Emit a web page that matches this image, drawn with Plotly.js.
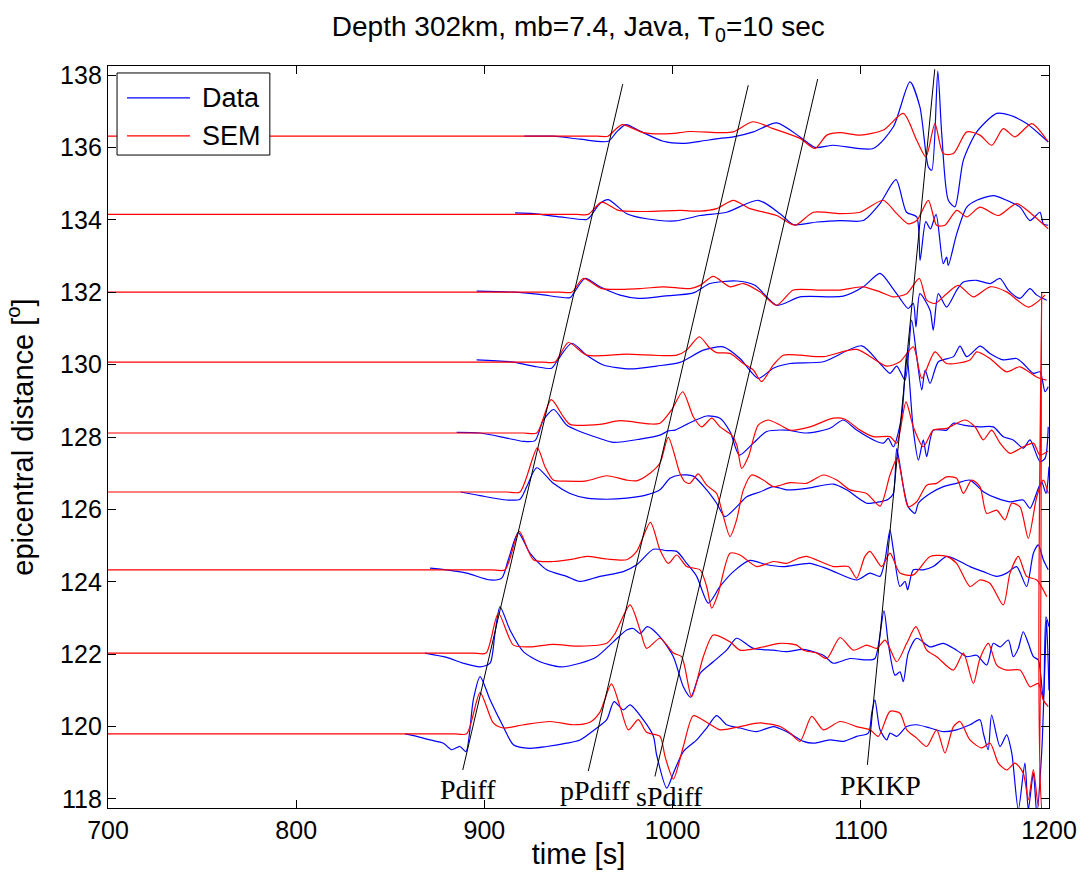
<!DOCTYPE html>
<html>
<head>
<meta charset="utf-8">
<script src="https://cdn.plot.ly/plotly-3.0.1.min.js"></script>
<style>html,body{margin:0;padding:0;background:#fff;}#chart{width:1086px;height:880px;}</style>
</head>
<body>
<div id="chart"></div>
<script>
// Epicentral distances (degrees) of the 9 stations, top to bottom
const distances = [136.31, 134.15, 132.0, 130.07, 128.11, 126.48, 124.33, 122.03, 119.8];

// ---- Trace 1 ----
const dataT1 = [921.2, 936.6, 950.8, 965.8, 970.3, 975.2, 982.7, 995, 1005.4, 1014.6, 1025.2, 1032.3, 1042.9, 1055.3, 1067.7, 1075.7, 1085.4, 1106.6, 1117.3, 1126.1, 1131.4, 1135.9, 1137.7, 1140.9, 1143, 1146.5, 1150, 1154.5, 1161.6, 1172.2, 1179.3, 1188.1, 1199.6];
const dataA1 = [0, 0, -0.08, -0.14, 0.12, 0.32, 0.14, -0.14, -0.20, -0.14, -0.06, -0.02, 0.12, 0.37, -0.02, -0.31, -0.25, -0.34, 0.26, 1.50, 0.81, -0.85, -0.94, 1.80, 0.07, -1.77, -1.95, -0.66, 0.12, 0.63, 0.58, 0.35, -0.16];
const semT1 = [700, 946, 960, 965.7, 969.5, 973.3, 984.4, 998.6, 1009.2, 1025.2, 1032.3, 1042.6, 1053.5, 1067.7, 1075.7, 1081.9, 1089, 1099.6, 1112, 1122.6, 1129.7, 1134.6, 1139.4, 1143.8, 1149.2, 1156.3, 1163.3, 1169.6, 1175.7, 1181.9, 1190.8, 1199.6];
const semA1 = [0, 0, 0, 0, 0.18, 0.32, 0.10, 0.07, 0.13, 0.10, 0.12, 0.40, 0.21, -0.06, -0.34, 0.03, 0.10, 0.03, 0.17, 0.63, -0.11, -0.57, 0.35, -0.48, -0.48, 0.12, 0.03, -0.25, 0.21, -0.02, 0.35, -0.16];

// ---- Trace 2 ----
const dataT2 = [916.3, 926, 940.2, 954.4, 956.1, 961.4, 965.8, 975.6, 986.2, 1001.3, 1014.6, 1028.7, 1045.5, 1057.1, 1064.1, 1076.6, 1089, 1101.3, 1110.2, 1118.7, 1124.3, 1129.7, 1131.5, 1134.5, 1137, 1140, 1143.8, 1145.6, 1146.5, 1151, 1156.3, 1161.6, 1170.4, 1177.5, 1184.6, 1189.9, 1195.2, 1197, 1199.6];
const dataA2 = [0.04, 0.02, -0.07, -0.14, -0.07, 0.30, 0.41, 0.02, -0.12, -0.18, -0.03, 0.06, 0.39, 0.02, -0.28, -0.21, -0.17, -0.17, 0.30, 0.96, 0.06, -0.07, -1.27, -0.2, -0.4, 0.0, -1.36, -1.18, -1.41, -0.53, 0.20, 0.39, 0.52, 0.39, 0.20, -0.17, 0.06, -0.26, -0.30];
const semT2 = [700, 935, 949, 955.2, 962.3, 971.2, 986.2, 1003.9, 1014.6, 1023.4, 1032.3, 1041.1, 1055.3, 1065, 1074.8, 1089, 1099.6, 1111.9, 1119.1, 1125.2, 1129.7, 1135.9, 1140.3, 1144.7, 1151, 1156.3, 1163.3, 1173.1, 1182.8, 1191.7, 1199.6];
const semA2 = [0, 0, 0, 0, 0.34, 0.11, 0.08, 0.11, 0.09, 0.16, 0.39, 0.16, -0.03, -0.30, 0.06, 0.02, 0.06, 0.39, 0.02, -0.26, -0.17, 0.39, -0.30, -0.30, 0.11, -0.07, 0.20, -0.03, 0.30, -0.03, -0.40];

// ---- Trace 3 ----
const dataT3 = [895.9, 915.4, 929.5, 945.5, 947.3, 953.5, 961.4, 972.1, 981.8, 995.1, 1011, 1019.9, 1034, 1043.8, 1055.3, 1067.7, 1090.7, 1101.3, 1110.2, 1116.4, 1120.8, 1125.2, 1127.9, 1129.3, 1131.4, 1136.8, 1138.5, 1141.2, 1145.6, 1151, 1154.5, 1161.6, 1168.7, 1174, 1178.4, 1184.6, 1189.9, 1193.5, 1198.8];
const dataA3 = [0.03, 0, -0.06, -0.15, -0.04, 0.38, 0.15, -0.08, -0.17, -0.11, -0.02, 0.24, 0.31, 0.19, -0.36, -0.13, -0.11, 0.15, 0.52, 0.15, -0.17, -0.45, -0.31, -0.96, -0.04, -0.50, -1.05, -0.04, -0.41, 0.06, 0.28, 0.33, 0.24, 0.38, 0.06, -0.17, 0.10, -0.08, -0.22];
const semT3 = [700, 926, 940, 946.4, 952.6, 962.3, 982.7, 995.1, 1009.2, 1014.6, 1021.6, 1030.5, 1037.6, 1046.4, 1055.3, 1064.1, 1076.6, 1089, 1101.3, 1110.2, 1117.3, 1124.4, 1131.1, 1135, 1139.4, 1145.6, 1151.8, 1159.8, 1168.7, 1177.5, 1189, 1197.9];
const semA3 = [0, 0, 0, 0, 0.38, 0.10, 0.10, 0.15, 0.10, 0.19, 0.44, 0.15, 0.24, 0.01, -0.36, 0.06, 0.06, 0.06, 0.15, 0.01, -0.13, -0.04, 0.38, -0.22, -0.31, -0.04, 0.19, -0.13, 0.15, 0.01, -0.41, -0.08];

// ---- Trace 4 ----
const dataT4 = [895.9, 915.4, 927.8, 935.7, 938.4, 946.4, 954.4, 963.2, 977.4, 991.5, 1003.9, 1016.3, 1026.9, 1035.8, 1045.5, 1053.5, 1062.4, 1080.1, 1100.5, 1110.2, 1115.5, 1119.1, 1123.5, 1127, 1129.7, 1132.4, 1134.2, 1136.8, 1141.2, 1149.2, 1152.7, 1156.3, 1163.4, 1168.6, 1175.7, 1182.8, 1186.3, 1191.7, 1195.2, 1197.9, 1199.6];
const dataA4 = [0.06, 0, -0.13, -0.17, 0.01, 0.52, 0.19, -0.08, -0.19, -0.11, -0.01, 0.33, 0.42, 0.10, -0.45, -0.17, -0.04, 0.01, 0.45, -0.04, -0.31, -0.11, -0.50, 1.16, 0.15, -0.77, -0.22, -0.59, 0.01, 0.15, 0.44, 0.15, 0.44, 0.24, 0.06, 0.10, -0.04, -0.31, -0.27, -0.82, -0.68];
const semT4 = [700, 917, 931, 937.5, 944.6, 954.4, 975.6, 1002.2, 1007.5, 1014.2, 1019.9, 1023.4, 1030.5, 1037.6, 1042.9, 1047.3, 1053.5, 1058.8, 1067.7, 1080.1, 1097.8, 1113.8, 1120.8, 1127.9, 1132.4, 1139.4, 1145.6, 1158, 1161.6, 1168.6, 1177.5, 1184.6, 1193.4, 1198.7];
const semA4 = [0, 0, 0, 0, 0.54, 0.19, 0.22, 0.19, 0.33, 0.70, 0.38, 0.26, 0.24, -0.04, -0.22, -0.54, -0.08, 0.19, 0.19, 0.15, 0.35, -0.11, 0.01, 0.42, -0.45, 0.28, -0.04, 0.06, 0.28, 0.10, -0.27, -0.13, -0.41, -0.50];

// ---- Trace 5 ----
const dataT5 = [885.3, 897.7, 911.9, 920.7, 926.9, 931.3, 936.8, 943.7, 950.8, 961.4, 968.5, 982.7, 993.3, 997.7, 1001.3, 1007.5, 1018.1, 1025.2, 1030.5, 1035.5, 1042.9, 1050, 1060.6, 1071.2, 1083.6, 1090.7, 1097.8, 1106.7, 1112, 1114.6, 1117.3, 1121.7, 1124.4, 1127.9, 1130.6, 1133.2, 1135, 1138.5, 1145.6, 1149.2, 1154.5, 1163.3, 1170.4, 1175.7, 1181, 1186.3, 1189.9, 1195.2, 1197.9, 1199.6];
const dataA5 = [0.02, 0, -0.14, -0.23, -0.21, 0.36, 0.65, 0.22, 0.04, -0.15, -0.26, -0.17, -0.06, 0.06, 0.08, 0.24, 0.47, 0.41, 0.04, -0.61, -0.28, 0.04, 0.08, 0, 0.13, 0.36, 0.08, -0.19, -0.28, -0.15, -0.38, 0.45, 2.2, 0.08, -0.75, -0.19, -0.65, 0.08, 0.08, 0.27, 0.22, 0.17, 0.17, -0.10, -0.19, -0.42, -0.19, -0.79, -0.70, 0.17];
const semT5 = [700, 907, 921, 927.8, 935.5, 941.9, 945.5, 961.4, 972.1, 988, 993.3, 999.5, 1005.4, 1011, 1015.5, 1020.8, 1025.2, 1031.4, 1034.1, 1036.7, 1040.3, 1045.5, 1050.8, 1057.1, 1062.4, 1073, 1085.4, 1091.6, 1099.6, 1106.7, 1115.5, 1119.1, 1124, 1127.9, 1133.2, 1138.5, 1145.6, 1155.4, 1160.7, 1165.1, 1169.5, 1174, 1179.3, 1186.3, 1191.7, 1195.2, 1199.6];
const semA5 = [0, 0, 0, 0, 0.92, 0.45, 0.24, 0.24, 0.34, 0.25, 0.27, 0.64, 1.14, 0.45, 0.17, 0.41, 0.17, -0.06, -0.33, -0.98, -0.65, 0.22, 0.36, 0.22, 0.08, 0.17, 0.41, 0.38, 0.08, -0.10, -0.10, -0.28, 0.86, 0.17, -0.38, 0.08, 0.13, 0.36, 0.17, -0.19, 0.08, -0.28, -0.56, -0.38, -0.28, -0.61, -0.5];

// ---- Trace 6 ----
const dataT6 = [887.4, 897.7, 911.9, 918.9, 922.5, 927.8, 936.6, 945.5, 954.4, 965, 975.6, 986.2, 993.3, 998.6, 1003.9, 1011, 1018.1, 1023.4, 1027.8, 1034, 1039.4, 1046.4, 1053.5, 1060.6, 1071.2, 1085.4, 1092.5, 1103.1, 1110.2, 1114.6, 1117.3, 1119.1, 1122.6, 1125.2, 1128.8, 1130.6, 1136.8, 1143.9, 1150.9, 1158, 1165.1, 1172.2, 1179.3, 1186.3, 1189.9, 1194.3, 1196.1, 1198.4, 1200];
const dataA6 = [0, -0.10, -0.22, -0.20, 0.15, 0.67, 0.24, -0.04, -0.17, -0.20, -0.17, -0.08, 0.06, 0.38, 0.47, 0.44, 0.06, -0.31, -0.68, -0.41, -0.13, 0, 0.15, 0.06, 0.10, 0.22, 0.06, -0.31, -0.27, -0.20, -0.04, 1.2, 0.15, -0.41, -0.59, -0.31, -0.04, 0.15, 0.24, 0.33, 0.01, -0.17, -0.27, -0.22, -0.45, 0.10, 0.28, -0.04, 0.70];
const semT6 = [700, 898, 912, 918.9, 928.1, 932.2, 936.6, 943.7, 954.4, 965, 975.6, 980.9, 988, 993.3, 997.7, 1003.9, 1006.6, 1009.2, 1013.6, 1018.1, 1023.4, 1026.1, 1030.5, 1034, 1037.6, 1042, 1048.2, 1053.5, 1062.4, 1071.2, 1080.1, 1087.2, 1094.3, 1103.1, 1110.2, 1115.5, 1119.4, 1121.7, 1125.2, 1129.7, 1135, 1140.3, 1145.6, 1150.9, 1154.5, 1158.9, 1163.3, 1166.9, 1172.2, 1176.6, 1180.2, 1184.6, 1189, 1193.5, 1197, 1199.6];
const semA6 = [0, 0, 0, 0, 1.22, 0.70, 0.33, 0.30, 0.31, 0.45, 0.33, 0.31, 0.52, 0.80, 1.51, 0.52, 0.28, 0.24, 0.50, 0.19, -0.04, -0.50, -1.23, -0.77, 0.06, 0.47, 0.33, 0.15, 0.26, 0.24, 0.47, 0.33, 0.06, -0.04, -0.39, 0.47, 0.95, 0.42, -0.41, -0.27, 0.19, 0.24, 0.42, 0.38, -0.04, 0.33, 0.15, -0.59, -0.50, -0.77, -0.31, -0.41, -1.28, -0.13, 0.33, -0.04];

// ---- Trace 7 ----
const dataT7 = [871.1, 880, 890.6, 903, 909.2, 912.7, 918, 924.2, 933.1, 943.7, 950.8, 961.4, 973.8, 980.9, 989.8, 996.9, 1002.2, 1007.5, 1012.8, 1019, 1025.2, 1032.3, 1041.1, 1050, 1058.8, 1073, 1083.6, 1097.8, 1104.9, 1110.2, 1112.9, 1115.5, 1117.3, 1120.8, 1123.5, 1124.9, 1127.9, 1133.2, 1138.5, 1145.6, 1150.9, 1158, 1165.1, 1172.2, 1177.5, 1182.8, 1188.1, 1191.7, 1194.3, 1197, 1199.6];
const dataA7 = [0.05, 0, -0.09, -0.28, -0.23, 0.28, 1.03, 0.46, 0, -0.18, -0.32, -0.18, -0.05, 0.14, 0.57, 0.53, 0.51, 0.18, -0.18, -0.92, -0.46, -0.05, 0.26, 0.14, 0.09, 0.18, 0, -0.28, -0.09, -0.18, 0.28, 1.10, 0.55, -0.46, -0.32, -0.55, 0, 0, 0.09, 0.37, 0.28, 0.09, -0.05, -0.18, -0.09, 0.09, -0.46, 0.46, 0.69, 0.28, 0];
const semT7 = [700, 890, 904, 911, 918.5, 926, 936.6, 947.3, 954.4, 965, 975.6, 980.9, 988.2, 993.3, 997.7, 1002.2, 1007.5, 1014.6, 1018.1, 1020.8, 1024.3, 1030.5, 1035.8, 1044.7, 1053.5, 1060.6, 1066.8, 1071.2, 1085.4, 1093.4, 1097.8, 1102.2, 1104.9, 1111.1, 1115.5, 1120.8, 1127.9, 1136.8, 1145.6, 1150.9, 1158, 1163.3, 1168.6, 1175.7, 1179.3, 1183.7, 1188.1, 1193.5, 1198.8];
const semA7 = [0, 0, 0, 0, 1.06, 0.28, 0.23, 0.30, 0.37, 0.30, 0.28, 0.51, 1.31, 0.55, 0.18, 0.41, 0.09, 0, -0.46, -1.06, -0.64, 0.46, 0.41, 0.09, 0.23, 0.18, 0.32, 0.37, 0.09, 0.09, -0.23, 0.37, 0.51, 0.09, 0.46, -0.09, -0.14, 0.37, 0.37, 0.18, -0.46, -0.28, -0.37, -0.97, -0.09, 0.37, -0.18, -0.28, -0.74];

// ---- Trace 8 ----
const dataT8 = [868.4, 880, 888.8, 897.7, 903, 905.6, 908.3, 913.6, 920.7, 929.5, 940.2, 950.8, 959.7, 968.5, 975.6, 979.2, 982.7, 986.6, 993.3, 1000.4, 1005.7, 1009.6, 1014.6, 1021.6, 1028.7, 1034, 1042.9, 1053.5, 1060.6, 1069.5, 1080.1, 1085.4, 1094.3, 1103.1, 1107.5, 1112.3, 1114.6, 1118.2, 1120.8, 1122.6, 1125.2, 1129.7, 1136.8, 1143.9, 1150.9, 1156.3, 1161.6, 1166.9, 1170.4, 1174, 1178.4, 1181, 1183.7, 1186.3, 1189, 1191.7, 1194.3, 1197, 1198.4, 1200];
const dataA8 = [0, -0.12, -0.28, -0.38, -0.28, 0.54, 1.28, 0.64, 0.04, -0.24, -0.38, -0.28, -0.10, 0.31, 0.64, 0.68, 0.54, 0.73, 0.45, -0.10, -0.93, -1.22, -0.56, -0.24, 0.08, 0.41, 0.13, 0.08, 0.04, 0.10, -0.06, -0.28, -0.15, -0.19, -0.15, 1.17, 0.27, -0.61, -0.52, -0.79, 0, 0.41, 0.17, 0.27, 0.08, -0.10, -0.06, -0.33, 0.27, 0.17, 0.36, -0.10, 0.13, 0.59, 0.27, -0.10, -0.19, -1.30, 1.00, 0.73];
const semT8 = [700, 880, 894, 900.9, 907.4, 915.4, 924.2, 936.6, 950.8, 965, 969.4, 977.4, 982.7, 986.2, 993.3, 1000.4, 1004.8, 1010.1, 1016.3, 1021.6, 1030.5, 1035.8, 1044.7, 1057.1, 1065.9, 1069.5, 1076.6, 1081.9, 1089, 1096.1, 1103.1, 1108.5, 1112.9, 1119.1, 1124.4, 1129.3, 1135, 1140.3, 1149.2, 1154.5, 1159.8, 1163.3, 1167.8, 1172.2, 1177.5, 1184.6, 1189.9, 1194.3, 1197, 1199.6];
const semA8 = [0, 0, 0, 0, 1.10, 0.22, 0.17, 0.24, 0.19, 0.27, 0.54, 1.33, 0.64, 0.13, 0.41, 0, -0.10, -1.21, -0.10, 0.50, 0.31, 0.08, 0.13, 0.27, 0.22, 0.08, 0, -0.15, 0.43, 0.08, 0.22, 0.13, 0.36, -0.24, 0.27, 0.73, 0.08, -0.10, -0.47, 0, -0.84, -0.15, 0.27, -0.33, -0.47, -0.47, -0.93, -0.84, -1.30, -1.48];

// ---- Trace 9 ----
const dataT9 = [857.8, 864, 871.1, 878.2, 882.6, 887, 890.2, 894.1, 897.7, 903, 910, 915.4, 924.2, 933.1, 943.7, 950.8, 959.7, 965, 968.9, 973.8, 977.4, 984.4, 989.8, 991.5, 996.9, 1000.4, 1005.7, 1012.8, 1018.1, 1023.4, 1028.7, 1035.8, 1044.7, 1053.5, 1060.6, 1069.5, 1074.8, 1083.6, 1090.7, 1097.8, 1104, 1105.8, 1107.5, 1110.2, 1113.8, 1115.5, 1119.1, 1124.4, 1129.7, 1136.8, 1143.9, 1150.9, 1158, 1163.3, 1165.1, 1167.7, 1169.5, 1174, 1177.5, 1180.2, 1183.7, 1187.2, 1189, 1191.7, 1193.5, 1196.1, 1197.9, 1198.7, 1200];
const dataA9 = [0, -0.07, -0.17, -0.26, -0.44, -0.35, -0.49, 0.94, 1.58, 0.94, 0.20, -0.30, -0.40, -0.35, -0.26, -0.17, 0.16, 0.39, 0.89, 0.66, 0.80, 0.39, -0.07, -0.58, -1.50, -1.09, -0.49, -0.17, 0.16, 0.50, 0.25, 0.16, 0.06, 0.20, 0.06, -0.21, -0.26, -0.17, -0.21, -0.07, 0.02, 0.57, 0.94, 0.11, -0.17, 0.02, -0.07, 0.20, 0.25, 0.16, 0.06, 0.11, 0.25, 0.39, 0.02, -0.44, 0.52, -0.35, -0.03, -0.53, -2.1, -0.81, -2.1, -1.08, -2.2, -0.53, 2.04, 3.15, 1.2];
const semT9 = [700, 870, 884, 890.6, 897.7, 904.7, 910, 920.7, 934.9, 947.3, 956.1, 961.4, 967.5, 972.1, 976.5, 981.8, 986.2, 993.3, 996, 1000.4, 1005.7, 1011, 1018.1, 1025.2, 1035.8, 1046.4, 1057.1, 1062.4, 1067.7, 1073.9, 1080.1, 1089, 1097.8, 1104.9, 1109.3, 1115.5, 1120.8, 1124.4, 1129.7, 1135, 1140.3, 1144.7, 1149.2, 1152.7, 1158, 1164.2, 1168.7, 1173.1, 1177.5, 1181.9, 1186.3, 1189, 1191.7, 1194.3, 1196.1, 1197.4, 1200];
const semA9 = [0, 0, 0, 0, 1.14, 0.30, 0.16, 0.25, 0.34, 0.25, 0.32, 0.60, 1.38, 0.75, 0.11, 0.39, 0.04, -0.07, -0.63, -1.25, -0.35, 0.50, 0.32, 0.11, 0.20, 0.30, 0.20, 0.02, -0.21, 0.48, 0.11, 0.34, 0.20, 0.11, -0.07, 0.62, 0.57, 0.11, -0.12, -0.35, 0.11, -0.53, 0.20, 0.34, -0.17, -0.39, -0.26, -0.81, -1.0, -0.81, -1.08, -1.82, -0.99, -2.0, 12.2, -2.5, -2.5];

// Phase travel-time curves (start/end points) and labels
const phaseNames = ['Pdiff', 'pPdiff', 'sPdiff', 'PKIKP'];
const phaseT0 = [888.5, 955.2, 990.6, 1103.5];
const phaseY0 = [118.80, 118.77, 118.62, 118.94];
const phaseT1 = [973.5, 1040.2, 1077.1, 1139.3];
const phaseY1 = [137.75, 137.72, 137.89, 138.16];
const labelT = [891.3, 958.8, 998.6, 1110.2];
const labelY = [118.27, 118.22, 118.08, 118.38];

const xTicks = [700, 800, 900, 1000, 1100, 1200];
const yTicks = [118, 120, 122, 124, 126, 128, 130, 132, 134, 136, 138];
const seriesNames = ['Data', 'SEM'];

const dataTs = [dataT1, dataT2, dataT3, dataT4, dataT5, dataT6, dataT7, dataT8, dataT9];
const dataAs = [dataA1, dataA2, dataA3, dataA4, dataA5, dataA6, dataA7, dataA8, dataA9];
const semTs = [semT1, semT2, semT3, semT4, semT5, semT6, semT7, semT8, semT9];
const semAs = [semA1, semA2, semA3, semA4, semA5, semA6, semA7, semA8, semA9];

const BLUE = '#0000ff', RED = '#ff0000';
const SANS = 'Liberation Sans, Arial, Helvetica, sans-serif';
const traces = [];
function addSet(Ts, As, color, name) {
  for (let i = 0; i < distances.length; i++) {
    const n = Math.min(Ts[i].length, As[i].length);
    traces.push({
      type: 'scatter', mode: 'lines', name: name, showlegend: false,
      x: Ts[i].slice(0, n), y: As[i].slice(0, n).map(a => distances[i] + a),
      line: {color: color, width: 1.2, shape: 'spline', smoothing: 0.7}, hoverinfo: 'skip'
    });
  }
}
addSet(dataTs, dataAs, BLUE, seriesNames[0]);
addSet(semTs, semAs, RED, seriesNames[1]);
for (let k = 0; k < phaseNames.length; k++) {
  traces.push({
    type: 'scatter', mode: 'lines', showlegend: false,
    x: [phaseT0[k], phaseT1[k]], y: [phaseY0[k], phaseY1[k]],
    line: {color: '#000000', width: 1}, hoverinfo: 'skip'
  });
}

const annotations = phaseNames.map((nm, k) => ({
  x: labelT[k], y: labelY[k], xref: 'x', yref: 'y', text: nm, showarrow: false,
  xanchor: 'center', yanchor: 'middle',
  font: {family: 'Liberation Serif, Times New Roman, serif', size: 28, color: '#000'}
}));
// legend (drawn as a boxed key in the upper-left corner)
const legY = [0.957, 0.9057];
seriesNames.forEach((nm, k) => {
  annotations.push({
    x: 0.0978, y: legY[k], xref: 'paper', yref: 'paper', text: nm, showarrow: false,
    xanchor: 'left', yanchor: 'middle',
    font: {family: SANS, size: 27, color: '#000'}
  });
});
const shapes = [
  {type: 'rect', xref: 'paper', yref: 'paper', x0: 0.0096, x1: 0.172, y0: 0.880, y1: 0.9906,
   line: {color: '#000', width: 1}, fillcolor: '#ffffff', layer: 'above'},
  {type: 'line', xref: 'paper', yref: 'paper', x0: 0.0202, x1: 0.0871, y0: legY[0], y1: legY[0],
   line: {color: BLUE, width: 1.2}, layer: 'above'},
  {type: 'line', xref: 'paper', yref: 'paper', x0: 0.0202, x1: 0.0871, y0: legY[1], y1: legY[1],
   line: {color: RED, width: 1.2}, layer: 'above'}
];

const axisFont = {family: SANS, size: 25, color: '#000'};
const layout = {
  width: 1086, height: 880,
  paper_bgcolor: '#ffffff', plot_bgcolor: '#ffffff',
  margin: {l: 108, r: 37, t: 66, b: 72},
  font: {family: SANS, color: '#000'},
  showlegend: false,
  title: {
    text: 'Depth 302km, mb=7.4, Java, T<sub>0</sub>=10 sec',
    font: {family: SANS, size: 28, color: '#000'},
    x: 0.5325, xanchor: 'center', y: 0.97, yanchor: 'middle'
  },
  xaxis: {
    range: [700, 1200], tickvals: xTicks, ticktext: xTicks.map(String),
    ticks: 'inside', ticklen: 8, tickwidth: 1, tickcolor: '#000',
    showline: true, linecolor: '#000', linewidth: 1.2, mirror: 'ticks',
    showgrid: false, zeroline: false, tickfont: axisFont,
    title: {text: 'time [s]', font: {family: SANS, size: 29, color: '#000'}, standoff: 0}
  },
  yaxis: {
    range: [117.75, 138.25], tickvals: yTicks, ticktext: yTicks.map(String),
    ticks: 'inside', ticklen: 8, tickwidth: 1, tickcolor: '#000',
    showline: true, linecolor: '#000', linewidth: 1.2, mirror: 'ticks',
    showgrid: false, zeroline: false, tickfont: axisFont,
    title: {text: 'epicentral distance [<sup>o</sup>]', font: {family: SANS, size: 29, color: '#000'}, standoff: 18}
  },
  annotations: annotations,
  shapes: shapes
};

Plotly.newPlot('chart', traces, layout, {displayModeBar: false, staticPlot: true});
</script>
</body>
</html>
